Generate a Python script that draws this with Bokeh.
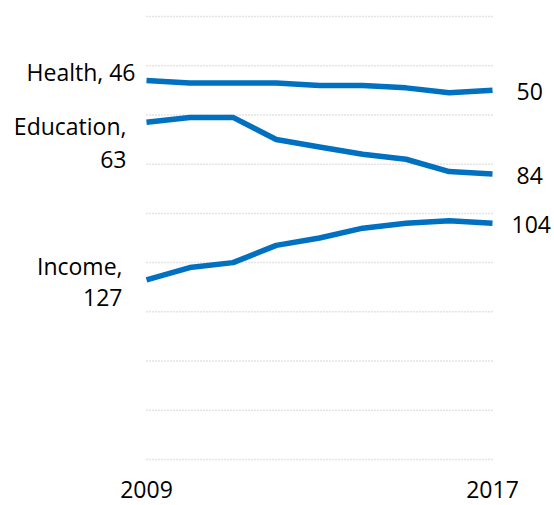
from bokeh.plotting import figure
from bokeh.models import Range1d
from bokeh.core.properties import value
from bokeh.embed import file_html
from bokeh.resources import INLINE

years = [2009, 2010, 2011, 2012, 2013, 2014, 2015, 2016, 2017]
health = [46, 47, 47, 47, 48, 48, 49, 51, 50]
education = [63, 61, 61, 70, 73, 76, 78, 83, 84]
income = [127, 122, 120, 113, 110, 106, 104, 103, 104]
grid_ranks = [20, 40, 60, 80, 100, 120, 140, 160, 180, 200]
year_ticks = [2009, 2017]

FONT = value("Open Sans")
FS = value("23px")
BLUE = "#0070C0"

p = figure(width=554, height=505, output_backend="svg", toolbar_location=None,
           x_range=Range1d(2005.6243, 2018.4335), y_range=Range1d(218.69, 13.50),
           min_border=0, x_axis_location=None, y_axis_location=None)
p.outline_line_color = None
p.background_fill_color = "white"
p.border_fill_color = "white"
p.grid.visible = False

# dotted horizontal gridlines spanning the year range only
p.segment(x0=[year_ticks[0]] * len(grid_ranks), x1=[year_ticks[-1]] * len(grid_ranks),
          y0=grid_ranks, y1=grid_ranks, line_color="#c8c8c8", line_width=1.5, line_dash="1 2")

for series in (health, education, income):
    p.line(years, series, line_color=BLUE, line_width=5.5, line_join="round")

first, last = years[0], years[-1]

# left labels (right-aligned)
p.text(x=[first] * 5,
       y=[health[0], education[0], education[0], income[0], income[0]],
       text=[f"Health, {health[0]}", "Education,", f"{education[0]}", "Income,", f"{income[0]}"],
       x_offset=[-11, -20, -20, -24, -24], y_offset=[-8, 4, 37, -14, 18],
       text_align="right", text_baseline="alphabetic",
       text_font=FONT, text_font_size=FS, text_color="#000000")

# right labels (left-aligned)
p.text(x=[last] * 3, y=[health[-1], education[-1], income[-1]],
       text=[f"{health[-1]}", f"{education[-1]}", f"{income[-1]}"],
       x_offset=[24, 24, 19], y_offset=[1, 1, 1],
       text_align="left", text_baseline="alphabetic",
       text_font=FONT, text_font_size=FS, text_color="#000000")

# year labels
p.text(x=year_ticks, y=[grid_ranks[-1]] * len(year_ticks), text=[str(y) for y in year_ticks],
       x_offset=0, y_offset=30, text_align="center", text_baseline="alphabetic",
       text_font=FONT, text_font_size=FS, text_color="#000000")

open("out.html", "w").write(file_html(p, INLINE))
